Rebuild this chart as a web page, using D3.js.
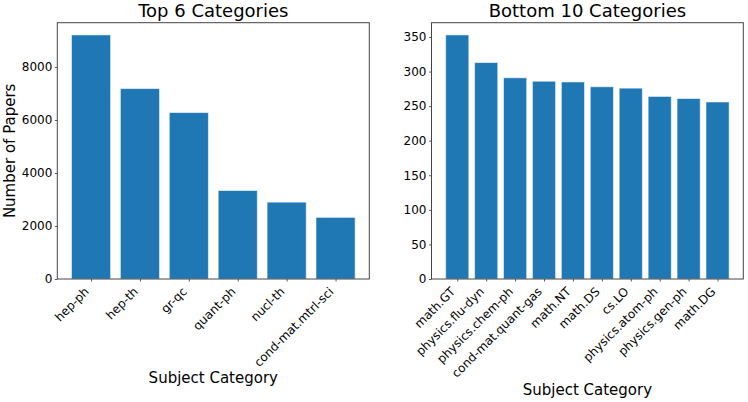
<!DOCTYPE html>
<html>
<head>
<meta charset="utf-8">
<script src="https://cdn.jsdelivr.net/npm/d3@7"></script>
<style>
  html, body { margin: 0; padding: 0; background: #fff; }
  svg { display: block; }
  text { font-family: "DejaVu Sans", sans-serif; fill: #000; }
</style>
</head>
<body>
<svg id="chart" width="748" height="402"></svg>
<script>
// ---- data ----
const topCategories = ["hep-ph", "hep-th", "gr-qc", "quant-ph", "nucl-th", "cond-mat.mtrl-sci"];
const topCounts = [9210, 7185, 6280, 3340, 2900, 2325];
const topTicks = [0, 2000, 4000, 6000, 8000];

const bottomCategories = ["math.GT", "physics.flu-dyn", "physics.chem-ph", "cond-mat.quant-gas", "math.NT", "math.DS", "cs.LO", "physics.atom-ph", "physics.gen-ph", "math.DG"];
const bottomCounts = [353, 313, 291, 286, 285, 278, 276, 264, 261, 256];
const bottomTicks = [0, 50, 100, 150, 200, 250, 300, 350];

const titles = ["Top 6 Categories", "Bottom 10 Categories"];
const yLabel = "Number of Papers";
const xLabel = "Subject Category";

// ---- drawing ----
const svg = d3.select("#chart");
const plotTop = 22.7, plotBottom = 279;

function panel(left, right, cats, vals, ticks, title, xLabY, showYLabel) {
  const g = svg.append("g");
  const n = cats.length;
  const x = d3.scaleLinear().domain([-0.4 - 0.05 * (n - 0.2), n - 0.6 + 0.05 * (n - 0.2)]).range([left, right]);
  const y = d3.scaleLinear().domain([0, d3.max(vals) * 1.05]).range([plotBottom, plotTop]);

  g.selectAll("rect.bar").data(vals).enter().append("rect")
    .attr("class", "bar")
    .attr("x", (d, i) => x(i - 0.4))
    .attr("width", (d, i) => x(i + 0.4) - x(i - 0.4))
    .attr("y", d => y(d))
    .attr("height", d => y(0) - y(d))
    .attr("fill", "#1f77b4")
    .attr("stroke", "rgba(255,255,255,0.55)")
    .attr("stroke-width", 1);

  // y axis
  const ya = g.append("g").attr("transform", `translate(${left},0)`)
    .call(d3.axisLeft(y).tickValues(ticks).tickSize(2.5).tickPadding(2.5).tickFormat(d3.format("d")));
  ya.select(".domain").remove();
  ya.selectAll("line").attr("stroke", "#333").attr("stroke-width", 0.8);
  ya.selectAll("text").style("font-size", "12px").style("font-family", "DejaVu Sans");

  // x axis
  const xa = g.append("g").attr("transform", `translate(0,${plotBottom})`)
    .call(d3.axisBottom(x).tickValues(d3.range(n)).tickSize(2.5).tickFormat(i => cats[i]));
  xa.select(".domain").remove();
  xa.selectAll("line").attr("stroke", "#333").attr("stroke-width", 0.8);
  xa.selectAll("text")
    .style("font-size", "12px").style("font-family", "DejaVu Sans")
    .attr("text-anchor", "end")
    .attr("y", 0).attr("dy", 0)
    .attr("transform", "translate(-1.8,13.4) rotate(-45)");

  // frame
  g.append("rect").attr("x", left).attr("y", plotTop)
    .attr("width", right - left).attr("height", plotBottom - plotTop)
    .attr("fill", "none").attr("stroke", "#444").attr("stroke-width", 1);

  g.append("text").attr("x", (left + right) / 2).attr("y", 17)
    .attr("text-anchor", "middle").style("font-size", "18px").text(title);

  g.append("text").attr("x", (left + right) / 2).attr("y", xLabY)
    .attr("text-anchor", "middle").style("font-size", "15px").text(xLabel);

  if (showYLabel) {
    g.append("text").attr("transform", `translate(15,${(plotTop + plotBottom) / 2}) rotate(-90)`)
      .attr("text-anchor", "middle").style("font-size", "15px").text(yLabel);
  }
}

panel(57.3, 369.3, topCategories, topCounts, topTicks, titles[0], 383, true);
panel(431.5, 743.3, bottomCategories, bottomCounts, bottomTicks, titles[1], 394.5, false);
</script>
</body>
</html>
